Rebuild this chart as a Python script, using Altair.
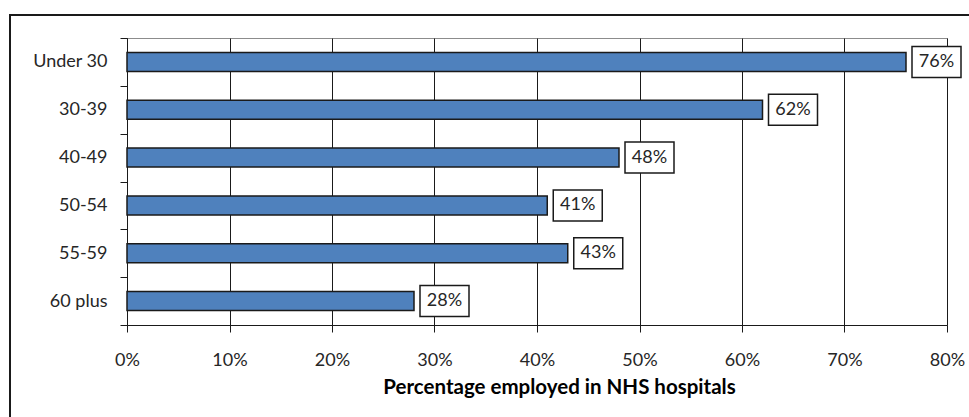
import altair as alt
import pandas as pd

categories = ["Under 30", "30-39", "40-49", "50-54", "55-59", "60 plus"]
values = [0.76, 0.62, 0.48, 0.41, 0.43, 0.28]
labels = ["76%", "62%", "48%", "41%", "43%", "28%"]
x_ticks = [0, 0.1, 0.2, 0.3, 0.4, 0.5, 0.6, 0.7, 0.8]
x_title = "Percentage employed in NHS hospitals"

df = pd.DataFrame({"age": categories, "value": values, "label": labels})

FONT = "Lato"

y_enc = alt.Y(
    "age:N",
    sort=categories,
    title=None,
    scale=alt.Scale(paddingInner=0, paddingOuter=0),
    axis=alt.Axis(
        tickBand="extent",
        tickSize=7,
        tickColor="#1a1a1a",
        domainColor="#1a1a1a",
        labelPadding=13,
        labelFont=FONT,
        labelFontSize=18,
        labelColor="#262626",
        grid=False,
        labelExpr="datum.value == '30-39' ? '30-39\u00a0' : datum.value",
    ),
)

x_enc = alt.X(
    "value:Q",
    scale=alt.Scale(domain=[0, 0.8], nice=False),
    axis=alt.Axis(
        values=x_ticks,
        format=".0%",
        grid=True,
        gridColor="#1a1a1a",
        gridOpacity=1,
        tickSize=7,
        tickColor="#1a1a1a",
        domainColor="#1a1a1a",
        labelFlush=False,
        labelPadding=19,
        labelFont=FONT,
        labelFontSize=18,
        labelColor="#262626",
        title=x_title,
        titleFont=FONT,
        titleFontSize=20.5,
        titleFontWeight="bold",
        titleColor="#000000",
        titleX=432,
        titleY=68,
        titleBaseline="alphabetic",
    ),
)

bars = alt.Chart(df).mark_bar(
    size=19, fill="#4F81BD", stroke="#1a1a1a", strokeWidth=1.5
).encode(x=x_enc, y=y_enc)

boxes = alt.Chart(df).mark_bar(
    size=31, fill="white", stroke="#1a1a1a", strokeWidth=1.5, xOffset=6, x2Offset=55
).encode(x="value:Q", x2="value:Q", y=alt.Y("age:N", sort=categories))

texts = alt.Chart(df).mark_text(
    dx=30.5, align="center", baseline="middle", font=FONT, fontSize=18, color="#262626"
).encode(x="value:Q", y=alt.Y("age:N", sort=categories), text="label:N")

frame = alt.Chart(df).mark_rect(
    fill=None, stroke="#1a1a1a", strokeWidth=2
).encode(
    x=alt.value(-117), x2=alt.value(2000), y=alt.value(-23), y2=alt.value(1000)
)

chart = (
    alt.layer(frame, bars, boxes, texts)
    .properties(
        width=820,
        height=287,
        autosize=alt.AutoSizeParams(type="none"),
        padding={"left": 127, "top": 38, "right": 22, "bottom": 92},
        background="white",
    )
    .configure_view(stroke="#8c8c8c", strokeWidth=1)
)

chart.save("out.html", embed_options={"renderer": "svg", "actions": False})
